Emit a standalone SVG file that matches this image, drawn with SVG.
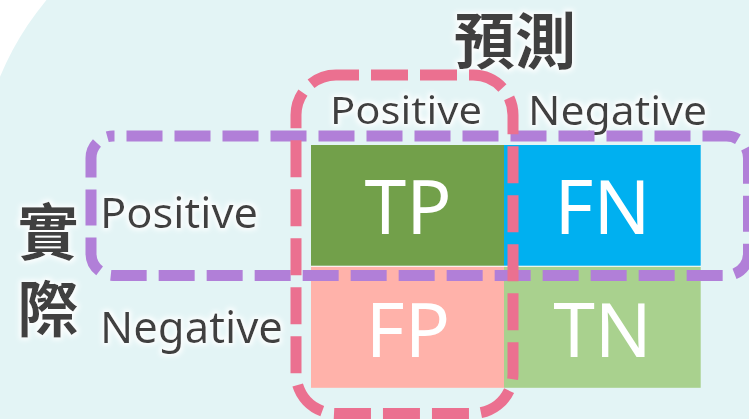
<svg xmlns="http://www.w3.org/2000/svg" width="749" height="419" viewBox="0 0 749 419">
  <defs>
    <filter id="glow" x="-20%" y="-30%" width="140%" height="160%">
      <feMorphology in="SourceAlpha" operator="dilate" radius="2" result="d"/>
      <feGaussianBlur in="d" stdDeviation="2.5" result="b"/>
      <feFlood flood-color="#ffffff" flood-opacity="0.95"/>
      <feComposite in2="b" operator="in" result="g"/>
      <feMerge>
        <feMergeNode in="g"/>
        <feMergeNode in="SourceGraphic"/>
      </feMerge>
    </filter>
  </defs>
  <style>
    .lbl { font-family: "Noto Sans", "Open Sans", "Liberation Sans", sans-serif; fill: #404040; }
    .cjk { font-family: "Noto Sans CJK TC", "Noto Sans CJK SC", sans-serif; font-weight: 700; fill: #404040; font-size: 61px; }
    .cell { font-family: "Noto Sans", "Open Sans", "Liberation Sans", sans-serif; fill: #ffffff; font-size: 75px; text-anchor: middle; }
    .dash { fill: none; stroke-width: 11; }
  </style>

  <rect x="0" y="0" width="749" height="419" fill="#ffffff"/>
  <rect id="background" x="-23" y="-108" width="1000" height="800" rx="300" ry="300" fill="#E3F4F5"/>

  <g id="title-predicted" filter="url(#glow)">
    <text class="cjk" x="515" y="64" text-anchor="middle">預測</text>
  </g>
  <g id="title-actual" filter="url(#glow)">
    <text class="cjk" text-anchor="middle" font-size="62"><tspan x="48" y="255">實</tspan><tspan x="48" y="332">際</tspan></text>
  </g>

  <g id="col-positive" filter="url(#glow)">
    <text class="lbl" x="330" y="124" font-size="39" textLength="152" lengthAdjust="spacingAndGlyphs">Positive</text>
  </g>
  <g id="col-negative" filter="url(#glow)">
    <text class="lbl" x="528" y="125" font-size="40" textLength="179" lengthAdjust="spacingAndGlyphs">Negative</text>
  </g>
  <g id="row-positive" filter="url(#glow)">
    <text class="lbl" x="100" y="228" font-size="42" textLength="158" lengthAdjust="spacingAndGlyphs">Positive</text>
  </g>
  <g id="row-negative" filter="url(#glow)">
    <text class="lbl" x="100" y="343" font-size="44" textLength="183" lengthAdjust="spacingAndGlyphs">Negative</text>
  </g>

  <rect x="311" y="265.7" width="390" height="1.2" fill="#ffffff"/>
  <g id="TP">
    <rect x="311" y="145" width="193" height="120.7" fill="#72A04A"/>
    <text class="cell" x="408" y="234">TP</text>
  </g>
  <g id="FN">
    <rect x="504" y="145" width="196.7" height="120.7" fill="#00B0F0"/>
    <text class="cell" x="602.5" y="234">FN</text>
  </g>
  <g id="FP">
    <rect x="311" y="266.8" width="193" height="121" fill="#FFB2AA"/>
    <text class="cell" x="408" y="357">FP</text>
  </g>
  <g id="TN">
    <rect x="504" y="266.8" width="196.7" height="121" fill="#A9D18E"/>
    <text class="cell" x="602.5" y="357">TN</text>
  </g>

  <g id="connectors">
    <rect id="actual-positive-frame" class="dash" x="91" y="136" width="657.5" height="139.5" rx="22" ry="22" stroke="#B17FD8" stroke-dasharray="36 12" stroke-dashoffset="34.5"/>
    <rect id="predicted-positive-frame" class="dash" x="296" y="75" width="217" height="338.5" rx="40" ry="40" stroke="#EB7090" stroke-dasharray="37 12" stroke-dashoffset="14"/>
  </g>
</svg>
